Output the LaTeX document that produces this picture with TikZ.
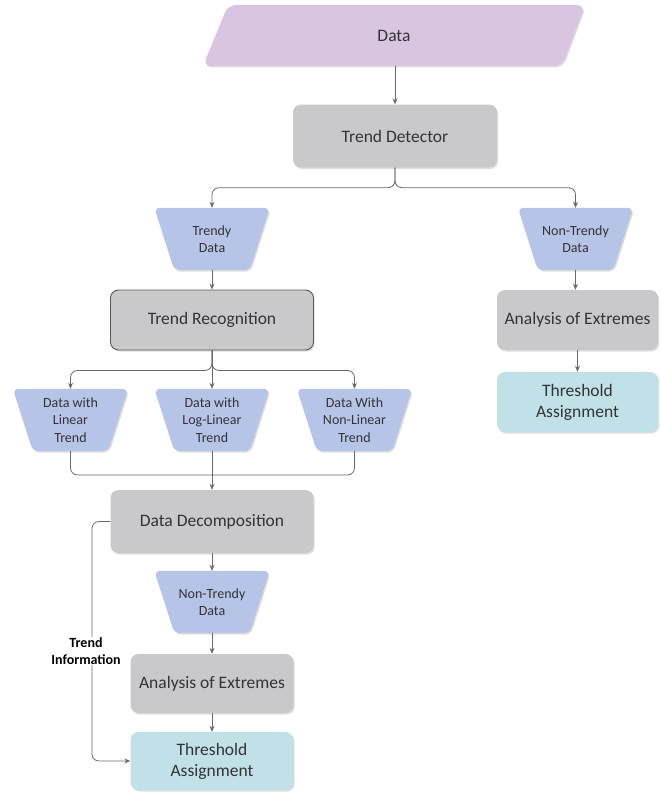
\documentclass[tikz,border=0pt]{standalone}
\usepackage{fontspec}
\setmainfont{Carlito}
\usetikzlibrary{arrows.meta,shadows}
\definecolor{cpink}{HTML}{DAC5E0}
\definecolor{cgray}{HTML}{C9C9CB}
\definecolor{cblue}{HTML}{B6C5E7}
\definecolor{cteal}{HTML}{C0E1E7}
\definecolor{ctext}{HTML}{333338}
\definecolor{cline}{HTML}{6A6A6A}
\tikzset{
  shd/.style={drop shadow={shadow xshift=1.2pt,shadow yshift=-1.5pt,opacity=0.22,fill=black!60}},
  proc/.style={rectangle,rounded corners=8pt,fill=cgray,text=ctext,font=\fontsize{17.5}{21}\selectfont,align=center,shd},
  thr/.style={rectangle,rounded corners=8pt,fill=cteal,text=ctext,font=\fontsize{17.5}{21}\selectfont,align=center,shd},
  tzbox/.style={rectangle,minimum width=115pt,minimum height=62pt,inner sep=0pt,text=ctext,font=\fontsize{14}{17.5}\selectfont,align=center},
  tzfill/.style={fill=cblue,rounded corners=6pt,shd},
  conn/.style={draw=cline,line width=0.8pt,-{Stealth[length=6pt,width=5pt]}},
  plain/.style={draw=cline,line width=0.8pt},
}
\begin{document}
\begin{tikzpicture}[x=1pt,y=-1pt]
\useasboundingbox (0,0) rectangle (661,792);
% Data parallelogram
\path[fill=cpink,rounded corners=8pt,shd] (228,5) -- (585,5) -- (562,66) -- (203,66) -- cycle;
\node[text=ctext,font=\fontsize{17.5}{21}\selectfont,minimum width=300pt,minimum height=61pt,inner sep=0pt] (data) at (394,35.5) {Data};
% processes
\node[proc,minimum width=204pt,minimum height=63pt] (td) at (395,136) {Trend Detector};
\node[proc,minimum width=203pt,minimum height=60pt,draw=black!65,line width=0.9pt] (trec) at (212,320) {Trend Recognition};
\node[proc,minimum width=203pt,minimum height=63pt] (dd) at (212,521.5) {Data Decomposition};
\node[proc,minimum width=163pt,minimum height=59pt] (ae2) at (212,683.5) {Analysis of Extremes};
\node[thr,minimum width=163pt,minimum height=58pt] (ta2) at (212,761) {Threshold\\Assignment};
\node[proc,minimum width=161pt,minimum height=60pt] (ae1) at (577.5,320) {Analysis of Extremes};
\node[thr,minimum width=161pt,minimum height=60pt] (ta1) at (577.5,402) {Threshold\\Assignment};
% trapezoid text boxes
\node[tzbox] (trendy) at (212,239) {};
\node[tzbox] (nt1) at (575.5,239) {};
\node[tzbox] (lin) at (70.5,420) {};
\node[tzbox] (loglin) at (212,420) {};
\node[tzbox] (nlin) at (354.5,420) {};
\node[tzbox] (nt2) at (212,602) {};
\foreach \n in {trendy,nt1,lin,loglin,nlin,nt2}{
  \path[tzfill] (\n.north west) -- (\n.north east) -- ([xshift=-20pt]\n.south east) -- ([xshift=20pt]\n.south west) -- cycle;
}
\node[tzbox] at (trendy) {Trendy\\Data};
\node[tzbox] at (nt1) {Non-Trendy\\Data};
\node[tzbox] at (lin) {Data with\\Linear\\Trend};
\node[tzbox] at (loglin) {Data with\\Log-Linear\\Trend};
\node[tzbox] at (nlin) {Data With\\Non-Linear\\Trend};
\node[tzbox] at (nt2) {Non-Trendy\\Data};
% connectors
\draw[conn] (td.north |- data.south) -- (td.north);
\draw[conn,rounded corners=7pt] (td.south) -- ++(0,20) -| (trendy.north);
\draw[conn,rounded corners=7pt] (td.south) -- ++(0,20) -| (nt1.north);
\draw[conn] (trendy.south) -- (trec.north);
\draw[conn,rounded corners=7pt] (trec.south) -- ++(0,20) -| (lin.north);
\draw[conn,rounded corners=7pt] (trec.south) -- ++(0,20) -| (nlin.north);
\draw[conn] (trec.south) -- (loglin.north);
\coordinate (j) at (212,475);
\draw[plain,rounded corners=7pt] (lin.south) |- (j);
\draw[plain,rounded corners=7pt] (nlin.south) |- (j);
\draw[conn] (loglin.south) -- (dd.north);
\draw[conn] (dd.south) -- (nt2.north);
\draw[conn] (nt2.south) -- (ae2.north);
\draw[conn] (ae2.south) -- (ta2.north);
\draw[conn] (nt1.south) -- (nt1.south |- ae1.north);
\draw[conn] (ae1.south) -- (ta1.north);
\draw[conn,rounded corners=7pt] (dd.west) -- (92,521.5) |- (ta2.west);
\node[fill=white,text=black,font=\bfseries\fontsize{14}{17}\selectfont,align=center,inner sep=1pt] (ti) at (86,651) {Trend\\Information};
\end{tikzpicture}
\end{document}
